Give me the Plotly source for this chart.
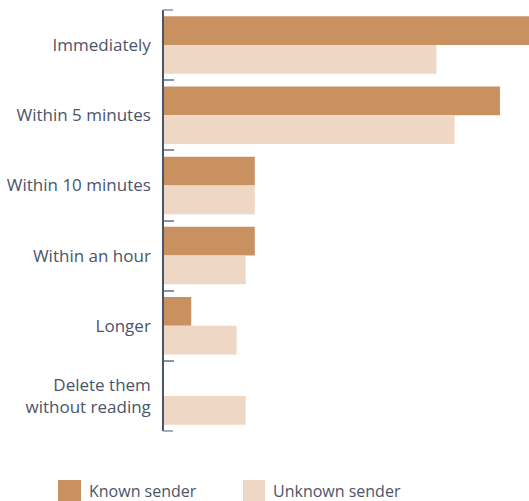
import plotly.graph_objects as go

categories = ["Immediately", "Within 5 minutes", "Within 10 minutes", "Within an hour", "Longer", "Delete them<br>without reading"]
known_sender = [40.5, 37, 10, 10, 3, 0]
unknown_sender = [30, 32, 10, 9, 8, 9]
series_names = ["Known sender", "Unknown sender"]
colors = ["#C99160", "#EED8C5"]

W, H = 529, 501
L, R, T, B = 164, 0, 10, 70
text_color = "#4B5569"
tick_color = "#8A93A5"
font_family = "'Open Sans', sans-serif"

fig = go.Figure()
for name, vals, col in zip(series_names, [known_sender, unknown_sender], colors):
    fig.add_trace(go.Bar(y=categories, x=vals, orientation="h", name=name,
                         marker=dict(color=col, line=dict(width=0)), showlegend=False))

def px_x(p):
    return (p - L) / (W - L - R)

def px_y(p):
    return (H - B - p) / (H - T - B)

shapes = []
annotations = []
# outer ticks at the top and bottom boundaries
for yy in (0, 1):
    shapes.append(dict(type="line", xref="paper", yref="paper",
                       x0=px_x(163), x1=px_x(173), y0=yy, y1=yy,
                       line=dict(color=tick_color, width=1.5)))
legend_pos = [(58, 81), (243, 265)]
for (x0, x1), name, col in zip(legend_pos, series_names, colors):
    shapes.append(dict(type="rect", xref="paper", yref="paper",
                       x0=px_x(x0), x1=px_x(x1), y0=px_y(501), y1=px_y(480),
                       fillcolor=col, line=dict(width=0), layer="above"))
    annotations.append(dict(text=name, xref="paper", yref="paper",
                            x=px_x(x1 + 6), y=px_y(491), xanchor="left", yanchor="middle",
                            showarrow=False, font=dict(size=16, color=text_color, family=font_family)))

fig.update_layout(
    width=W, height=H,
    margin=dict(l=L, r=R, t=T, b=B, pad=0),
    barmode="group", bargap=0.18, bargroupgap=0,
    plot_bgcolor="white", paper_bgcolor="white",
    font=dict(family=font_family, size=17, color=text_color),
    xaxis=dict(range=[0, 40.2], visible=False, showgrid=False, zeroline=False, fixedrange=True),
    yaxis=dict(autorange="reversed", showline=True, linecolor=text_color, linewidth=1.5,
               ticks="inside", tickson="boundaries", ticklen=10, tickcolor=tick_color, tickwidth=1.5,
               showgrid=False, ticklabelstandoff=8, tickfont=dict(size=17, color=text_color)),
    shapes=shapes, annotations=annotations,
)
fig.write_html("out.html")
